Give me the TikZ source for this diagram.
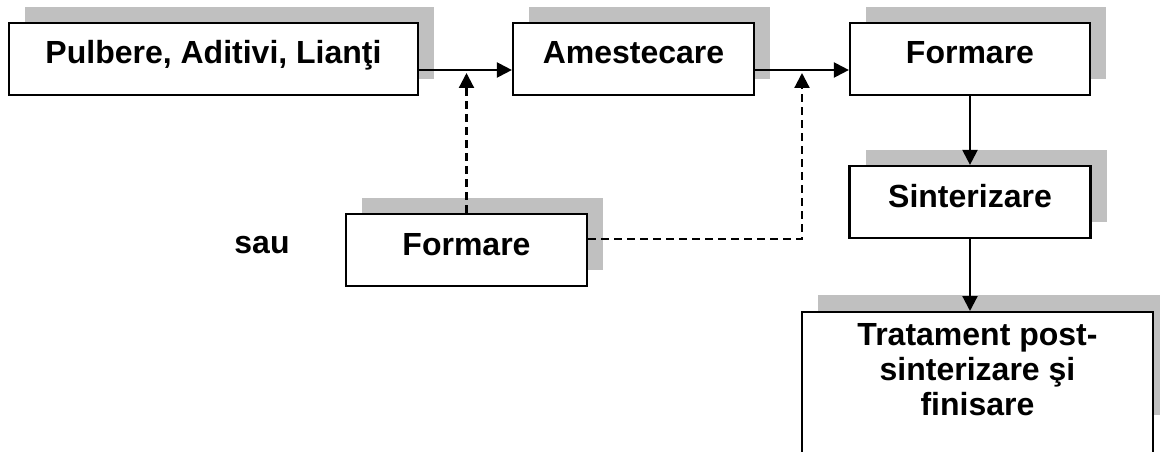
\documentclass[tikz,border=0pt]{standalone}
\usepackage{fontspec}
\setmainfont{Liberation Sans}
\usetikzlibrary{arrows.meta,shadows}
\definecolor{shadowgray}{HTML}{C0C0C0}
\begin{document}
\begin{tikzpicture}[x=1pt,y=-1pt,
  lbl/.style={font=\fontsize{32}{35}\selectfont\bfseries, inner sep=0pt},
  stage/.style={lbl, draw=black, line width=2.2pt, fill=white,
    text height=41pt, text depth=31pt, anchor=base,
    drop shadow={shadow xshift=16pt, shadow yshift=16pt,
      fill=shadowgray, draw=none, opacity=1}},
  flow/.style={line width=2.2pt, -{Triangle[length=15pt,width=15pt]}},
  alt/.style={flow, dash pattern=on 8pt off 5pt}]
\clip (0,0) rectangle (1163,452);

% process steps
\node[stage, minimum width=409pt] (b1) at (213.5,64) {Pulbere, Aditivi, Lianţi};
\node[stage, minimum width=241pt] (b2) at (633.5,64) {Amestecare};
\node[stage, minimum width=240pt] (b3) at (970,64) {Formare};
\node[stage, minimum width=241pt] (b4) at (970,207) {Sinterizare};
\node[stage, minimum width=241pt] (b6) at (466.5,255) {Formare};
\node[lbl, anchor=base] (sau) at (262,253) {sau};

% last step, running past the lower edge
\fill[shadowgray] (818,295) rectangle (1160,415);
\node[draw=black, line width=2.2pt, fill=white, inner sep=0pt,
  minimum width=351pt, minimum height=170pt, anchor=north] (b5) at (977.5,311) {};
\node[lbl, align=center, anchor=north] (t5) at (977.5,323)
  {Tratament post-\\sinterizare şi\\finisare};

% main flow
\draw[flow] ([yshift=-11pt]b1.east) -- ([yshift=-11pt]b2.west);
\draw[flow] ([yshift=-11pt]b2.east) -- ([yshift=-11pt]b3.west);
\draw[flow] (b3.south) -- (b4.north);
\draw[flow] (b4.south) -- (b4.south |- b5.north);

% alternative forming route
\coordinate (j1) at (466.5,73);
\coordinate (j2) at (802,73);
\draw[alt] (b6.north) -- (j1);
\draw[alt] ([yshift=11pt]b6.east) -| (j2);
\end{tikzpicture}
\end{document}
